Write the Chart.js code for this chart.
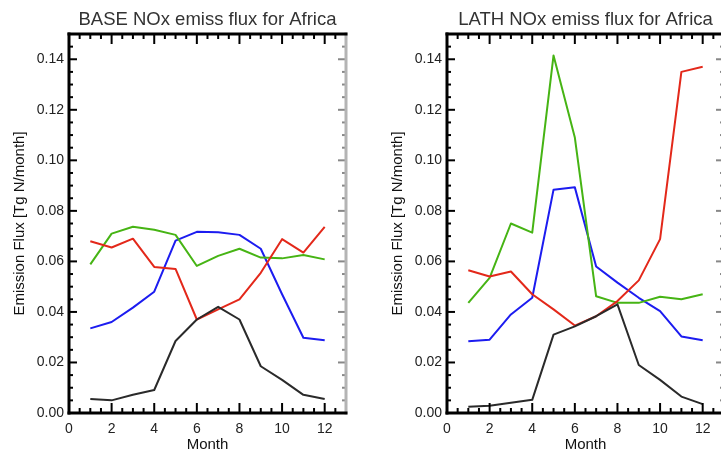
<!DOCTYPE html>
<html lang="en">
<head>
<meta charset="UTF-8">
<title>NOx emiss flux for Africa</title>
<script src="https://cdn.jsdelivr.net/npm/chart.js"></script>
<style>
  html, body { margin: 0; padding: 0; background: #fff; }
  body { width: 721px; height: 453px; overflow: hidden; position: relative; }
  canvas { position: absolute; top: 0; }
  #base { left: 0; }
  #lath { left: 360px; }
</style>
</head>
<body>
<canvas id="base" width="360" height="453"></canvas>
<canvas id="lath" width="380" height="453"></canvas>
<script>
// monthly NOx emission flux, Tg N/month
const months = [1, 2, 3, 4, 5, 6, 7, 8, 9, 10, 11, 12]
const xTicks = [0, 2, 4, 6, 8, 10, 12]
const yTicks = [0.00, 0.02, 0.04, 0.06, 0.08, 0.10, 0.12, 0.14]

const baseBlack = [0.0055, 0.005, 0.0072, 0.0091, 0.0285, 0.037, 0.042, 0.037, 0.0185, 0.0131, 0.0072, 0.0055]
const baseRed   = [0.068, 0.0655, 0.069, 0.0578, 0.057, 0.037, 0.041, 0.045, 0.0555, 0.0688, 0.0635, 0.0737]
const baseGreen = [0.0588, 0.071, 0.0737, 0.0725, 0.0705, 0.0582, 0.0622, 0.065, 0.0615, 0.0612, 0.0625, 0.0608]
const baseBlue  = [0.0335, 0.036, 0.0417, 0.048, 0.0682, 0.0717, 0.0715, 0.0705, 0.065, 0.047, 0.0298, 0.0288]

const lathBlack = [0.0025, 0.0029, 0.0041, 0.0052, 0.031, 0.0343, 0.0383, 0.043, 0.019, 0.0131, 0.0065, 0.0035]
const lathRed   = [0.0565, 0.054, 0.056, 0.047, 0.041, 0.0346, 0.0383, 0.0443, 0.0525, 0.0688, 0.135, 0.137]
const lathGreen = [0.0436, 0.0535, 0.075, 0.0714, 0.1415, 0.109, 0.0462, 0.0436, 0.0436, 0.046, 0.045, 0.047]
const lathBlue  = [0.0284, 0.029, 0.039, 0.0456, 0.0884, 0.0893, 0.058, 0.0516, 0.0456, 0.0403, 0.0303, 0.0288]

Chart.defaults.font.family = "'Liberation Sans', Arial, sans-serif"
Chart.defaults.color = '#222'

// IDL style box: thick frame with inward major/minor ticks on every side
const frame = {
  id: 'frame',
  afterDatasetsDraw(chart) {
    const { ctx, chartArea: a, scales: { x, y } } = chart
    const seg = (x1, y1, x2, y2) => { ctx.beginPath(); ctx.moveTo(x1, y1); ctx.lineTo(x2, y2); ctx.stroke() }
    ctx.save()
    ctx.lineWidth = 2
    for (let i = 0; i <= 26; i++) {
      const px = x.getPixelForValue(i * 0.5)
      const len = i % 4 === 0 ? 10 : 5
      ctx.strokeStyle = '#000'
      seg(px, a.bottom, px, a.bottom - len)
      seg(px, a.top, px, a.top + len)
    }
    for (let i = 0; i <= 30; i++) {
      const py = y.getPixelForValue(i * 0.005)
      const len = i % 4 === 0 ? 8 : 4
      ctx.strokeStyle = '#000'
      seg(a.left, py, a.left + len, py)
      ctx.strokeStyle = '#888'
      seg(a.right, py, a.right - len, py)
    }
    ctx.lineWidth = 3
    ctx.strokeStyle = '#b4b4b4'
    seg(a.right, a.top - 1.5, a.right, a.bottom + 1.5)
    ctx.strokeStyle = '#000'
    seg(a.left - 1.5, a.top, a.right + 1.5, a.top)
    seg(a.left - 1.5, a.bottom, a.right + 1.5, a.bottom)
    seg(a.left, a.top - 1.5, a.left, a.bottom + 1.5)
    ctx.restore()
  }
}

function series(values, color) {
  return {
    data: months.map((m, i) => ({ x: m, y: values[i] })),
    borderColor: color,
    borderWidth: 2,
    pointRadius: 0,
    tension: 0,
    borderJoinStyle: 'round',
    fill: false
  }
}

function makeChart(id, title, black, red, green, blue, padLeft, padRight) {
  return new Chart(document.getElementById(id), {
    type: 'line',
    data: {
      datasets: [
        series(black, '#2a2a2a'),
        series(red, '#e3281a'),
        series(green, '#46b414'),
        series(blue, '#1c1cf0')
      ]
    },
    options: {
      responsive: false,
      animation: false,
      layout: { padding: { left: padLeft, right: padRight, top: 0, bottom: 0 } },
      plugins: {
        legend: { display: false },
        tooltip: { enabled: false },
        title: {
          display: true,
          fullSize: false,
          text: title,
          color: '#333',
          font: { size: 18.5, weight: 'normal', lineHeight: 1.2 },
          padding: { top: 8.8, bottom: 3 }
        }
      },
      scales: {
        x: {
          type: 'linear',
          min: 0,
          max: 13,
          grid: { display: false, drawTicks: false },
          border: { display: false },
          ticks: { includeBounds: false, padding: 8, font: { size: 14 }, maxRotation: 0 },
          afterBuildTicks: s => { s.ticks = xTicks.map(value => ({ value })) },
          afterFit: s => { s.height = 40 },
          title: {
            display: true,
            text: 'Month',
            color: '#111',
            font: { size: 15, lineHeight: 1 },
            padding: { top: 0, bottom: 0.5 }
          }
        },
        y: {
          min: 0,
          max: 0.15,
          grid: { display: false, drawTicks: false },
          border: { display: false },
          ticks: {
            includeBounds: false,
            padding: 5,
            font: { size: 14 },
            callback: v => v.toFixed(2)
          },
          afterBuildTicks: s => { s.ticks = yTicks.map(value => ({ value })) },
          afterFit: s => { s.width = 69 },
          title: {
            display: true,
            text: 'Emission Flux [Tg N/month]',
            color: '#111',
            font: { size: 15, lineHeight: 1.2 },
            padding: { top: 11, bottom: 0 }
          }
        }
      }
    },
    plugins: [frame]
  })
}

makeChart('base', 'BASE NOx emiss flux for Africa', baseBlack, baseRed, baseGreen, baseBlue, 0, 14)
makeChart('lath', 'LATH NOx emiss flux for Africa', lathBlack, lathRed, lathGreen, lathBlue, 18, 16)
</script>
</body>
</html>
